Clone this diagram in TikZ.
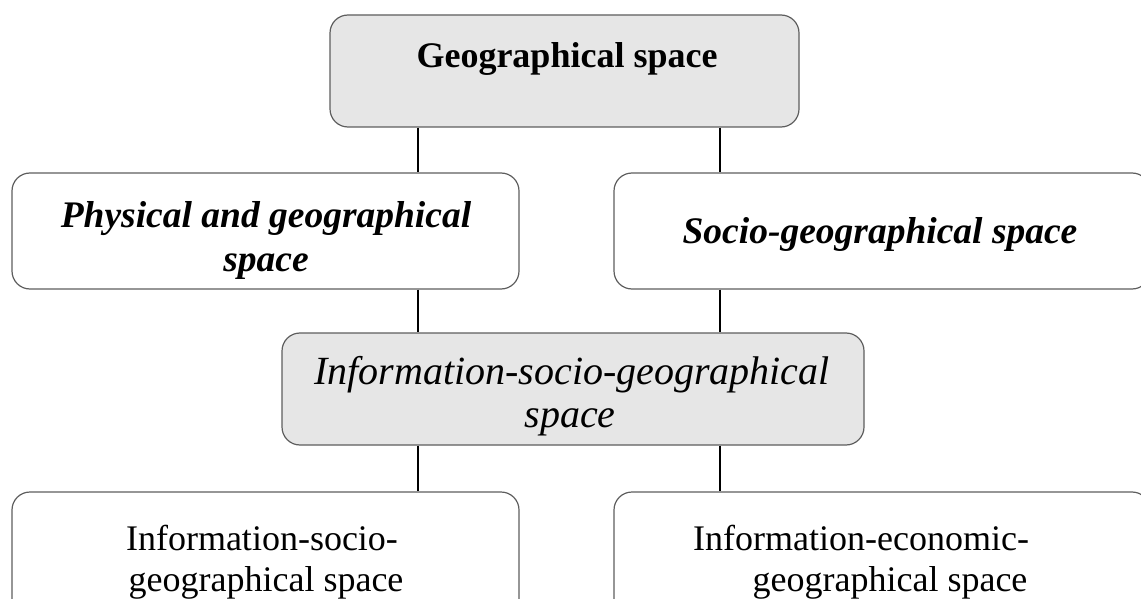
\documentclass[tikz,border=0pt]{standalone}
\usepackage{fontspec}
\setmainfont{Liberation Serif}
\definecolor{boxfill}{HTML}{E6E6E6}
\definecolor{boxline}{HTML}{5E5E5E}
\begin{document}
\begin{tikzpicture}[x=1pt,y=-1pt,
  box/.style={draw=boxline, line width=1.2pt, rounded corners=18pt, rectangle, inner sep=0pt},
  shaded/.style={box, fill=boxfill},
  plain/.style={box, fill=white},
  wire/.style={draw=black, line width=1.1pt},
  txt/.style={font=\fontsize{36}{41}\selectfont, inner sep=0pt, anchor=base},
  bi/.style={txt, font=\fontsize{37.5}{43}\selectfont\bfseries\itshape},
  it/.style={txt, font=\fontsize{40}{46}\selectfont\itshape}]
\useasboundingbox (0,0) rectangle (1141,599);
\clip (0,0) rectangle (1141,599);
\fill[white] (0,0) rectangle (1141,599);
% boxes
\node[shaded, minimum width=469pt, minimum height=112pt] (geo) at (564.5,71) {};
\node[plain, minimum width=507pt, minimum height=116pt] (phys) at (265.5,231) {};
\node[plain, minimum width=536pt, minimum height=116pt] (socio) at (882,231) {};
\node[shaded, minimum width=582pt, minimum height=112pt] (info) at (573,389) {};
\node[plain, minimum width=507pt, minimum height=140pt] (isg) at (265.5,562) {};
\node[plain, minimum width=536pt, minimum height=140pt] (ieg) at (882,562) {};
% connector columns
\coordinate (cl) at (418,0);
\coordinate (cr) at (720,0);
\draw[wire] (geo.south -| cl) -- (phys.north -| cl);
\draw[wire] (geo.south -| cr) -- (socio.north -| cr);
\draw[wire] (phys.south -| cl) -- (info.north -| cl);
\draw[wire] (socio.south -| cr) -- (info.north -| cr);
\draw[wire] (info.south -| cl) -- (isg.north -| cl);
\draw[wire] (info.south -| cr) -- (ieg.north -| cr);
% texts
\node[txt, font=\fontsize{36}{41}\selectfont\bfseries] (tgeo) at (567,68) {Geographical space};
\node[bi] (tphys1) at (266,227) {Physical and geographical};
\node[bi] (tphys2) at (266,271) {space};
\node[bi] (tsocio) at (880,243) {Socio-geographical space};
\node[it] (tinfo1) at (572,384) {Information-socio-geographical};
\node[it] (tinfo2) at (570,427) {space};
\node[txt] (tisg1) at (262,550) {Information-socio-};
\node[txt] (tisg2) at (266,591) {geographical space};
\node[txt] (tieg1) at (861,550) {Information-economic-};
\node[txt] (tieg2) at (890,591) {geographical space};
\end{tikzpicture}
\end{document}
